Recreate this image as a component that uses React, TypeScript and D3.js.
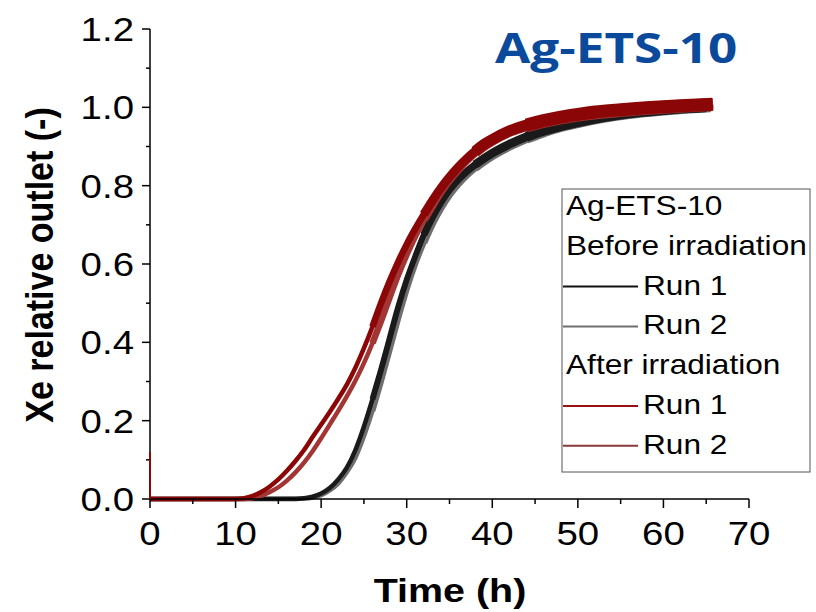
import React from "react";
import * as d3 from "d3";

// Xe breakthrough curves for Ag-ETS-10, before vs after irradiation.
const beforeRun1: [number, number][] = [
  [0, 0], [17, 0], [18, 0.002], [19, 0.006], [20, 0.014], [21, 0.028], [22, 0.05], [23, 0.08],
  [24, 0.125], [25, 0.185], [26, 0.255], [27, 0.33], [28, 0.41], [29, 0.49], [30, 0.56],
  [31, 0.62], [32, 0.675], [33, 0.72], [34, 0.758], [35, 0.79], [36, 0.815], [37, 0.836],
  [38, 0.854], [40, 0.883], [42, 0.906], [44, 0.925], [46, 0.94], [48, 0.952], [50, 0.962],
  [53, 0.975], [56, 0.985], [60, 0.993], [63, 0.998], [65, 1.0],
];
const beforeRun2: [number, number][] = [
  [0, 0], [18, 0.001], [19, 0.004], [20, 0.01], [21, 0.022], [22, 0.04], [23, 0.068],
  [24, 0.105], [25, 0.16], [26, 0.225], [27, 0.3], [28, 0.38], [29, 0.46], [30, 0.535],
  [31, 0.6], [32, 0.655], [33, 0.703], [34, 0.743], [35, 0.777], [36, 0.804], [37, 0.827],
  [38, 0.846], [40, 0.876], [42, 0.9], [44, 0.92], [46, 0.936], [48, 0.95], [50, 0.96],
  [53, 0.973], [56, 0.983], [60, 0.992], [63, 0.997], [65.5, 1.0],
];
const afterRun1Start: [number, number][] = [[0, 0.12], [0, 0]];
const afterRun1: [number, number][] = [
  [0.05, 0], [10, 0], [11, 0.002], [12, 0.008], [13, 0.018], [14, 0.032], [15, 0.05],
  [16, 0.072], [17, 0.097], [18, 0.125], [19, 0.158], [20, 0.19], [21, 0.222], [22, 0.256],
  [23, 0.292], [24, 0.335], [25, 0.385], [26, 0.44], [27, 0.5], [28, 0.555], [29, 0.605],
  [30, 0.65], [31, 0.69], [32, 0.727], [33, 0.762], [34, 0.794], [35, 0.822], [36, 0.847],
  [37, 0.869], [38, 0.888], [39, 0.905], [40, 0.918], [42, 0.94], [44, 0.955], [46, 0.966],
  [48, 0.975], [50, 0.982], [52, 0.988], [55, 0.994], [58, 0.999], [61, 1.003], [64, 1.006],
  [65.7, 1.008],
];
const afterRun2: [number, number][] = [
  [0, 0], [11, 0], [12, 0.002], [13, 0.008], [14, 0.018], [15, 0.03], [16, 0.047], [17, 0.068],
  [18, 0.093], [19, 0.122], [20, 0.155], [21, 0.19], [22, 0.225], [23, 0.262], [24, 0.302],
  [25, 0.347], [26, 0.398], [27, 0.455], [28, 0.515], [29, 0.573], [30, 0.625], [31, 0.672],
  [32, 0.714], [33, 0.751], [34, 0.786], [35, 0.816], [36, 0.842], [37, 0.865], [38, 0.885],
  [39, 0.902], [40, 0.916], [42, 0.938], [44, 0.953], [46, 0.964], [48, 0.973], [50, 0.98],
  [53, 0.988], [56, 0.994], [60, 1.0], [63, 1.004], [65.8, 1.007],
];

const xTicks = [0, 10, 20, 30, 40, 50, 60, 70];
const yTicks = [0, 0.2, 0.4, 0.6, 0.8, 1.0, 1.2];

const series = [
  { name: "before2", data: beforeRun2, color: "#6e6e6e", wide: 10 },
  { name: "before1", data: beforeRun1, color: "#1a1a1a", wide: 10 },
  { name: "after2", data: afterRun2, color: "#a33535", wide: 13 },
  { name: "after1", data: afterRun1, color: "#8b0606", wide: 13 },
];
// time thresholds where the noisy trace gets visibly wider
const bandSteps = [26, 32, 38, 44];

const legendRows = [
  { label: "Ag-ETS-10", color: null },
  { label: "Before irradiation", color: null },
  { label: "Run 1", color: "#111111" },
  { label: "Run 2", color: "#6e6e6e" },
  { label: "After irradiation", color: null },
  { label: "Run 1", color: "#9a1010" },
  { label: "Run 2", color: "#8b3a3a" },
];

const FONT = "'Liberation Sans', Arial, sans-serif";
const SX = 1.13; // the source picture is slightly stretched horizontally

export default function App() {
  const x = d3.scaleLinear().domain([0, 70]).range([150, 749]);
  const y = d3.scaleLinear().domain([0, 1.2]).range([499, 29]);
  const line = d3
    .line<[number, number]>()
    .x((d) => x(d[0]))
    .y((d) => y(d[1]))
    .curve(d3.curveMonotoneX);

  const xMinor = d3.range(5, 70, 10);
  const yMinor = d3.range(0.1, 1.2, 0.2);

  return (
    <svg
      width={816}
      height={612}
      style={{ position: "absolute", left: 0, top: 0, background: "#fff" }}
    >
      {series.map((s) => (
        <g key={s.name} fill="none" stroke={s.color} strokeLinejoin="round">
          <path d={line(s.data) || ""} strokeWidth={4.5} />
          {bandSteps.map((t0, k) => (
            <path
              key={t0}
              d={line(s.data.filter((d) => d[0] >= t0)) || ""}
              strokeWidth={4.5 + ((s.wide - 4.5) * (k + 1)) / bandSteps.length}
            />
          ))}
        </g>
      ))}

      {/* axes */}
      <g stroke="#000" strokeWidth={1.5}>
        <line x1={150} x2={150} y1={y(1.2)} y2={y(0)} />
        <line x1={150} x2={x(70)} y1={499} y2={499} />
        {yTicks.map((t) => (
          <line key={"ym" + t} x1={142} x2={150} y1={y(t)} y2={y(t)} />
        ))}
        {yMinor.map((t) => (
          <line key={"yn" + t} x1={146} x2={150} y1={y(t)} y2={y(t)} />
        ))}
        {xTicks.map((t) => (
          <line key={"xm" + t} x1={x(t)} x2={x(t)} y1={499} y2={508} />
        ))}
        {xMinor.map((t) => (
          <line key={"xn" + t} x1={x(t)} x2={x(t)} y1={499} y2={504} />
        ))}
      </g>
      <path d={line(afterRun1Start) || ""} stroke="#8b0606" strokeWidth={2} fill="none" />

      <g fontFamily={FONT} fontSize={34} fill="#000">
        {yTicks.map((t) => (
          <text
            key={"yl" + t}
            transform={`translate(134,${y(t) + 12}) scale(${SX},1)`}
            textAnchor="end"
          >
            {t.toFixed(1)}
          </text>
        ))}
        {xTicks.map((t) => (
          <text
            key={"xl" + t}
            transform={`translate(${x(t)},545) scale(${SX},1)`}
            textAnchor="middle"
          >
            {t}
          </text>
        ))}
      </g>

      <text
        transform={`translate(450,602) scale(${SX + 0.03},1)`}
        textAnchor="middle"
        fontFamily={FONT}
        fontWeight="bold"
        fontSize={34}
      >
        Time (h)
      </text>
      <text
        transform={`translate(53,265) rotate(-90) scale(1,${SX})`}
        textAnchor="middle"
        fontFamily={FONT}
        fontWeight="bold"
        fontSize={34}
      >
        Xe relative outlet (-)
      </text>

      <text
        transform={`translate(495,63) scale(1.22,1)`}
        fontFamily="'Open Sans', 'Noto Sans', sans-serif"
        fontWeight="bold"
        fontSize={42}
        fill="#0b4a9b"
      >
        Ag-ETS-10
      </text>

      {/* legend */}
      <rect x={562} y={189} width={248} height={283} fill="#fff" stroke="#555" strokeWidth={1} />
      {legendRows.map((r, i) => {
        const base = 215 + i * 39.8;
        return (
          <g key={i}>
            {r.color && (
              <line x1={563} x2={638} y1={base - 8} y2={base - 8} stroke={r.color} strokeWidth={2} />
            )}
            <text
              transform={`translate(${r.color ? 643 : 566},${base}) scale(${SX},1)`}
              fontFamily={FONT}
              fontSize={28}
            >
              {r.label}
            </text>
          </g>
        );
      })}
    </svg>
  );
}
